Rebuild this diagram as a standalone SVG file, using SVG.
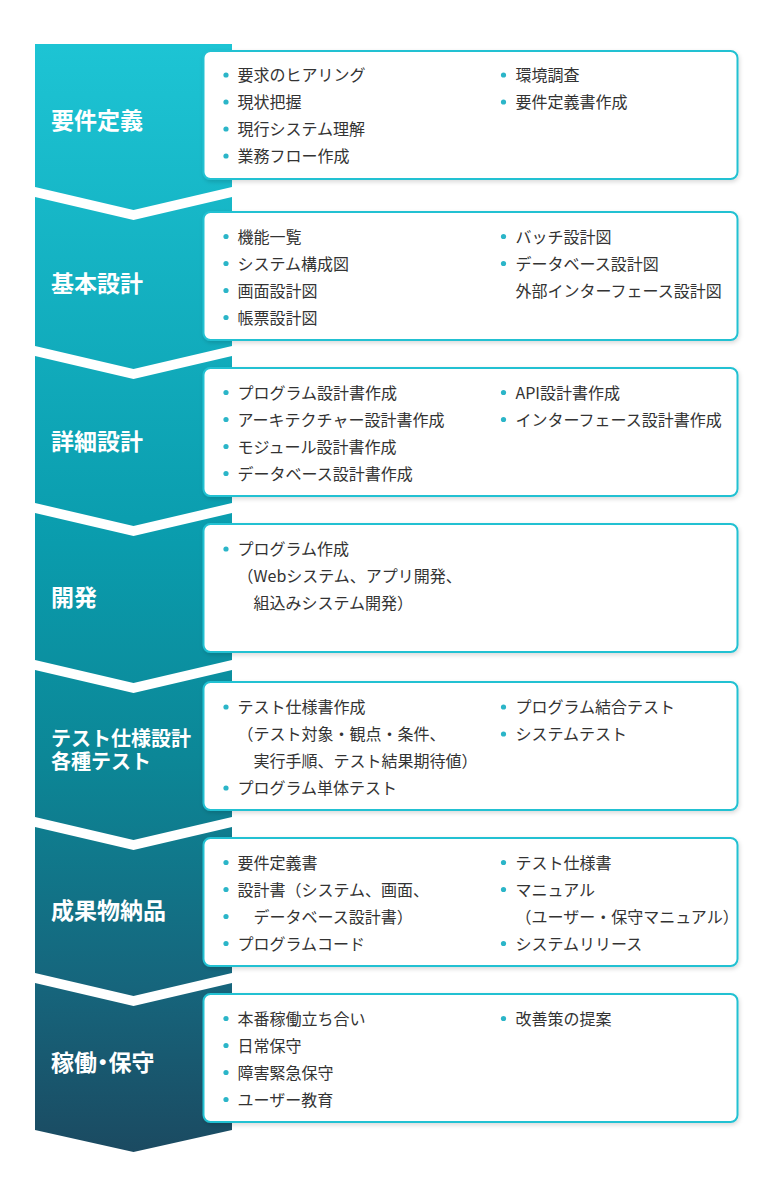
<svg xmlns="http://www.w3.org/2000/svg" width="767" height="1198" viewBox="0 0 767 1198">
<defs>
<linearGradient id="col" gradientUnits="userSpaceOnUse" x1="0" y1="44" x2="0" y2="1153">
<stop offset="0" stop-color="#1dc4d4"/>
<stop offset="0.45" stop-color="#0a9cad"/>
<stop offset="0.65" stop-color="#0c8696"/>
<stop offset="0.85" stop-color="#16657c"/>
<stop offset="1" stop-color="#1b4a61"/>
</linearGradient>
<filter id="sh" x="-5%" y="-10%" width="110%" height="125%">
<feDropShadow dx="1" dy="2" stdDeviation="2" flood-color="#000" flood-opacity="0.15"/>
</filter>
</defs>
<style>
.seg{fill:url(#col)}
.box{fill:#fff;stroke:#22c1d2;stroke-width:2;filter:url(#sh)}
.lbl{font-family:"Noto Sans CJK JP",sans-serif;font-weight:700;font-size:23px;fill:#fff}
.lbl2{font-family:"Noto Sans CJK JP",sans-serif;font-weight:700;font-size:20px;fill:#fff}
.palt{font-feature-settings:"palt" 1}
.t{font-family:"Noto Sans CJK JP",sans-serif;font-size:16px;fill:#333}
.d{fill:#2bb5c8}
</style>
<rect width="767" height="1198" fill="#fff"/>
<g id="connectors"></g>

<g id="step1">
<polygon class="seg" points="35,44 232,44 232,187 133.5,210 35,187"/>
<text class="lbl" x="51" y="128.7">要件定義</text>
<rect class="box" x="203.5" y="51" width="534" height="128" rx="7"/>
<circle class="d" cx="226" cy="75" r="2.6"/><text class="t" x="237.5" y="81">要求のヒアリング</text>
<circle class="d" cx="226" cy="102" r="2.6"/><text class="t" x="237.5" y="108">現状把握</text>
<circle class="d" cx="226" cy="129" r="2.6"/><text class="t" x="237.5" y="135">現行システム理解</text>
<circle class="d" cx="226" cy="156" r="2.6"/><text class="t" x="237.5" y="162">業務フロー作成</text>
<circle class="d" cx="503.5" cy="75" r="2.6"/><text class="t" x="515.5" y="81">環境調査</text>
<circle class="d" cx="503.5" cy="102" r="2.6"/><text class="t" x="515.5" y="108">要件定義書作成</text>
</g>

<g id="step2">
<polygon class="seg" points="35,197 133.5,220 232,197 232,346 133.5,369 35,346"/>
<text class="lbl" x="51" y="291.7">基本設計</text>
<rect class="box" x="203.5" y="212" width="534" height="128" rx="7"/>
<circle class="d" cx="226" cy="236.5" r="2.6"/><text class="t" x="237.5" y="242.5">機能一覧</text>
<circle class="d" cx="226" cy="263.5" r="2.6"/><text class="t" x="237.5" y="269.5">システム構成図</text>
<circle class="d" cx="226" cy="290.5" r="2.6"/><text class="t" x="237.5" y="296.5">画面設計図</text>
<circle class="d" cx="226" cy="317.5" r="2.6"/><text class="t" x="237.5" y="323.5">帳票設計図</text>
<circle class="d" cx="503.5" cy="236.5" r="2.6"/><text class="t" x="515.5" y="242.5">バッチ設計図</text>
<circle class="d" cx="503.5" cy="263.5" r="2.6"/><text class="t" x="515.5" y="269.5">データベース設計図</text>
<text class="t" x="515.5" y="296.5">外部インターフェース設計図</text>
</g>

<g id="step3">
<polygon class="seg" points="35,356 133.5,379 232,356 232,503 133.5,526 35,503"/>
<text class="lbl" x="51" y="449.7">詳細設計</text>
<rect class="box" x="203.5" y="368" width="534" height="128" rx="7"/>
<circle class="d" cx="226" cy="392.5" r="2.6"/><text class="t" x="237.5" y="398.5">プログラム設計書作成</text>
<circle class="d" cx="226" cy="419.5" r="2.6"/><text class="t" x="237.5" y="425.5">アーキテクチャー設計書作成</text>
<circle class="d" cx="226" cy="446.5" r="2.6"/><text class="t" x="237.5" y="452.5">モジュール設計書作成</text>
<circle class="d" cx="226" cy="473.5" r="2.6"/><text class="t" x="237.5" y="479.5">データベース設計書作成</text>
<circle class="d" cx="503.5" cy="392.5" r="2.6"/><text class="t" x="515.5" y="398.5">API設計書作成</text>
<circle class="d" cx="503.5" cy="419.5" r="2.6"/><text class="t" x="515.5" y="425.5">インターフェース設計書作成</text>
</g>

<g id="step4">
<polygon class="seg" points="35,513 133.5,536 232,513 232,660 133.5,683 35,660"/>
<text class="lbl" x="51" y="605.7">開発</text>
<rect class="box" x="203.5" y="524" width="534" height="128" rx="7"/>
<circle class="d" cx="226" cy="549" r="2.6"/><text class="t" x="237.5" y="555">プログラム作成</text>
<text class="t" x="237.5" y="582">（Webシステム、アプリ開発、</text>
<text class="t" x="253.5" y="609">組込みシステム開発）</text>
</g>

<g id="step5">
<polygon class="seg" points="35,670 133.5,693 232,670 232,817 133.5,840 35,817"/>
<text class="lbl2" x="51" y="746">テスト仕様設計</text>
<text class="lbl2" x="51" y="768.5">各種テスト</text>
<rect class="box" x="203.5" y="682" width="534" height="128" rx="7"/>
<circle class="d" cx="226" cy="707" r="2.6"/><text class="t" x="237.5" y="713">テスト仕様書作成</text>
<text class="t" x="237.5" y="740">（テスト対象・観点・条件、</text>
<text class="t" x="253.5" y="767">実行手順、テスト結果期待値）</text>
<circle class="d" cx="226" cy="788" r="2.6"/><text class="t" x="237.5" y="794">プログラム単体テスト</text>
<circle class="d" cx="503.5" cy="707" r="2.6"/><text class="t" x="515.5" y="713">プログラム結合テスト</text>
<circle class="d" cx="503.5" cy="734" r="2.6"/><text class="t" x="515.5" y="740">システムテスト</text>
</g>

<g id="step6">
<polygon class="seg" points="35,827 133.5,850 232,827 232,973 133.5,996 35,973"/>
<text class="lbl" x="51" y="918.7">成果物納品</text>
<rect class="box" x="203.5" y="838" width="534" height="128" rx="7"/>
<circle class="d" cx="226" cy="862.5" r="2.6"/><text class="t" x="237.5" y="868.5">要件定義書</text>
<circle class="d" cx="226" cy="889.5" r="2.6"/><text class="t" x="237.5" y="895.5">設計書（システム、画面、</text>
<circle class="d" cx="226" cy="916.5" r="2.6"/><text class="t" x="253.5" y="922.5">データベース設計書）</text>
<circle class="d" cx="226" cy="943.5" r="2.6"/><text class="t" x="237.5" y="949.5">プログラムコード</text>
<circle class="d" cx="503.5" cy="862.5" r="2.6"/><text class="t" x="515.5" y="868.5">テスト仕様書</text>
<circle class="d" cx="503.5" cy="889.5" r="2.6"/><text class="t" x="515.5" y="895.5">マニュアル</text>
<text class="t" x="515.5" y="922.5">（ユーザー・保守マニュアル）</text>
<circle class="d" cx="503.5" cy="943.5" r="2.6"/><text class="t" x="515.5" y="949.5">システムリリース</text>
</g>

<g id="step7">
<polygon class="seg" points="35,983 133.5,1006 232,983 232,1130 133.5,1152 35,1130"/>
<text class="lbl palt" x="51" y="1070.7">稼働・保守</text>
<rect class="box" x="203.5" y="994" width="534" height="128" rx="7"/>
<circle class="d" cx="226" cy="1018.5" r="2.6"/><text class="t" x="237.5" y="1024.5">本番稼働立ち合い</text>
<circle class="d" cx="226" cy="1045.5" r="2.6"/><text class="t" x="237.5" y="1051.5">日常保守</text>
<circle class="d" cx="226" cy="1072.5" r="2.6"/><text class="t" x="237.5" y="1078.5">障害緊急保守</text>
<circle class="d" cx="226" cy="1099.5" r="2.6"/><text class="t" x="237.5" y="1105.5">ユーザー教育</text>
<circle class="d" cx="503.5" cy="1018.5" r="2.6"/><text class="t" x="515.5" y="1024.5">改善策の提案</text>
</g>
</svg>
